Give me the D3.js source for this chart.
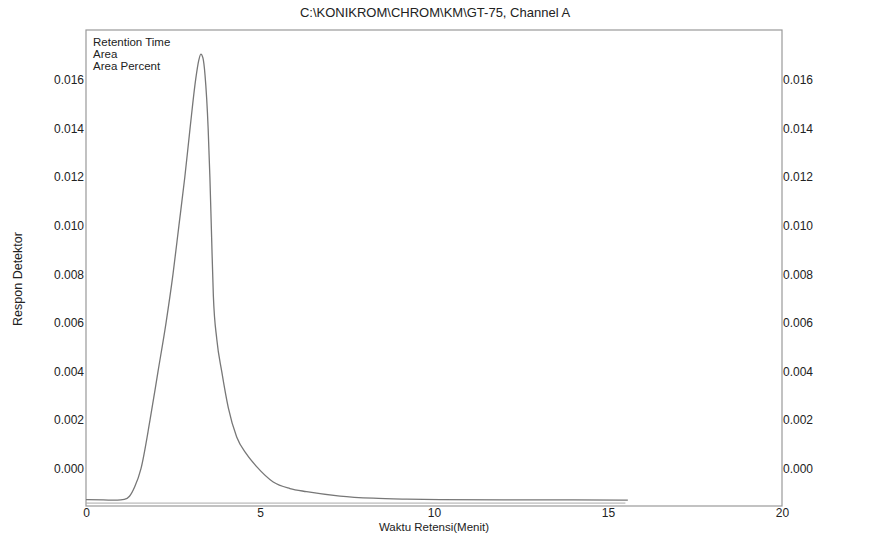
<!DOCTYPE html>
<html>
<head>
<meta charset="utf-8">
<script src="https://cdn.jsdelivr.net/npm/d3@7"></script>
<style>
  body { margin: 0; background: #fff; }
  text { font-family: "Liberation Sans", Arial, sans-serif; fill: #222; }
</style>
</head>
<body>
<div id="chart"></div>
<script>
// chromatogram
var timeMin = [0, 0.5, 0.9, 1.1, 1.25, 1.4, 1.58, 1.84, 2.07, 2.3, 2.5, 2.67, 2.84, 2.99, 3.15, 3.24, 3.3, 3.36, 3.42,
  3.51, 3.56, 3.61, 3.66, 3.76, 3.9, 4.09, 4.33, 4.62, 4.91, 5.38, 5.86, 6.34, 7.3, 8.25, 9.22, 10.17, 12, 14, 15.57];
var response = [-0.00128, -0.00129, -0.0013, -0.00127, -0.00114, -0.00075, 0, 0.002, 0.004, 0.006, 0.008, 0.010, 0.012, 0.014, 0.016, 0.0168, 0.01706, 0.0169, 0.0162,
  0.014, 0.012, 0.0095, 0.0071, 0.0053, 0.0040, 0.0025, 0.0013, 0.00058, 0.00007, -0.00055, -0.00082, -0.00095, -0.00113, -0.00122, -0.00126, -0.00128, -0.00129, -0.00129, -0.0013];
var baselineTime = [0, 15.5];
var baselineValue = [-0.00142, -0.00142];
var xTicks = [0, 5, 10, 15, 20];
var yTicks = [0, 0.002, 0.004, 0.006, 0.008, 0.010, 0.012, 0.014, 0.016];
var peakInfo = ["Retention Time", "Area", "Area Percent"];

var W = 871, H = 542;
var mLeft = 86, mRight = 782, mTop = 30, mBottom = 506;

var svg = d3.select("#chart").append("svg").attr("width", W).attr("height", H)

var x = d3.scaleLinear().domain([0, 20]).range([mLeft, mRight]);
var y = d3.scaleLinear().domain([-0.00154, 0.01805]).range([mBottom, mTop]);

svg.append("rect")
  .attr("x", mLeft).attr("y", mTop)
  .attr("width", mRight - mLeft).attr("height", mBottom - mTop)
  .attr("fill", "none").attr("stroke", "#999").attr("stroke-width", 1.2);

// axes, labels only (no tick marks on the scan)
var fmt = d3.format(".3f");
svg.append("g").attr("transform", "translate(" + mLeft + ",0)")
  .call(d3.axisLeft(y).tickValues(yTicks).tickFormat(fmt).tickSize(0).tickPadding(2))
  .call(function(g){ g.select(".domain").remove() });
svg.append("g").attr("transform", "translate(" + mRight + ",0)")
  .call(d3.axisRight(y).tickValues(yTicks).tickFormat(fmt).tickSize(0).tickPadding(1))
  .call(function(g){ g.select(".domain").remove() });
svg.append("g").attr("transform", "translate(0," + mBottom + ")")
  .call(d3.axisBottom(x).tickValues(xTicks).tickFormat(d3.format("d")).tickSize(0).tickPadding(2))
  .call(function(g){ g.select(".domain").remove() });

svg.selectAll(".tick text")
  .style("font-size", "12px")
  .style("font-family", "'Liberation Sans', Arial, sans-serif")
  .attr("fill", "#222");

var line = d3.line()
  .x(function(d){ return x(d[0]) })
  .y(function(d){ return y(d[1]) });

svg.append("path")
  .datum(baselineTime.map(function(t, i){ return [t, baselineValue[i]] }))
  .attr("d", line)
  .attr("fill", "none").attr("stroke", "#aaa").attr("stroke-width", 1);

svg.append("path")
  .datum(timeMin.map(function(t, i){ return [t, response[i]] }))
  .attr("d", line.curve(d3.curveMonotoneX))
  .attr("fill", "none").attr("stroke", "#777").attr("stroke-width", 1.3);

svg.append("text")
  .attr("x", 435).attr("y", 17)
  .attr("text-anchor", "middle")
  .style("font-size", "13px")
  .text("C:\\KONIKROM\\CHROM\\KM\\GT-75, Channel A");

svg.selectAll("text.info").data(peakInfo).enter().append("text")
  .attr("class", "info")
  .attr("x", 93)
  .attr("y", function(d, i){ return 46 + i * 12 })
  .style("font-size", "11.5px")
  .text(function(d){ return d });

svg.append("text")
  .attr("transform", "translate(22," + 279 + ") rotate(-90)")
  .attr("text-anchor", "middle")
  .style("font-size", "12.5px")
  .text("Respon Detektor");

svg.append("text")
  .attr("x", 434).attr("y", 531)
  .attr("text-anchor", "middle")
  .style("font-size", "11.5px")
  .text("Waktu Retensi(Menit)");
</script>
</body>
</html>
